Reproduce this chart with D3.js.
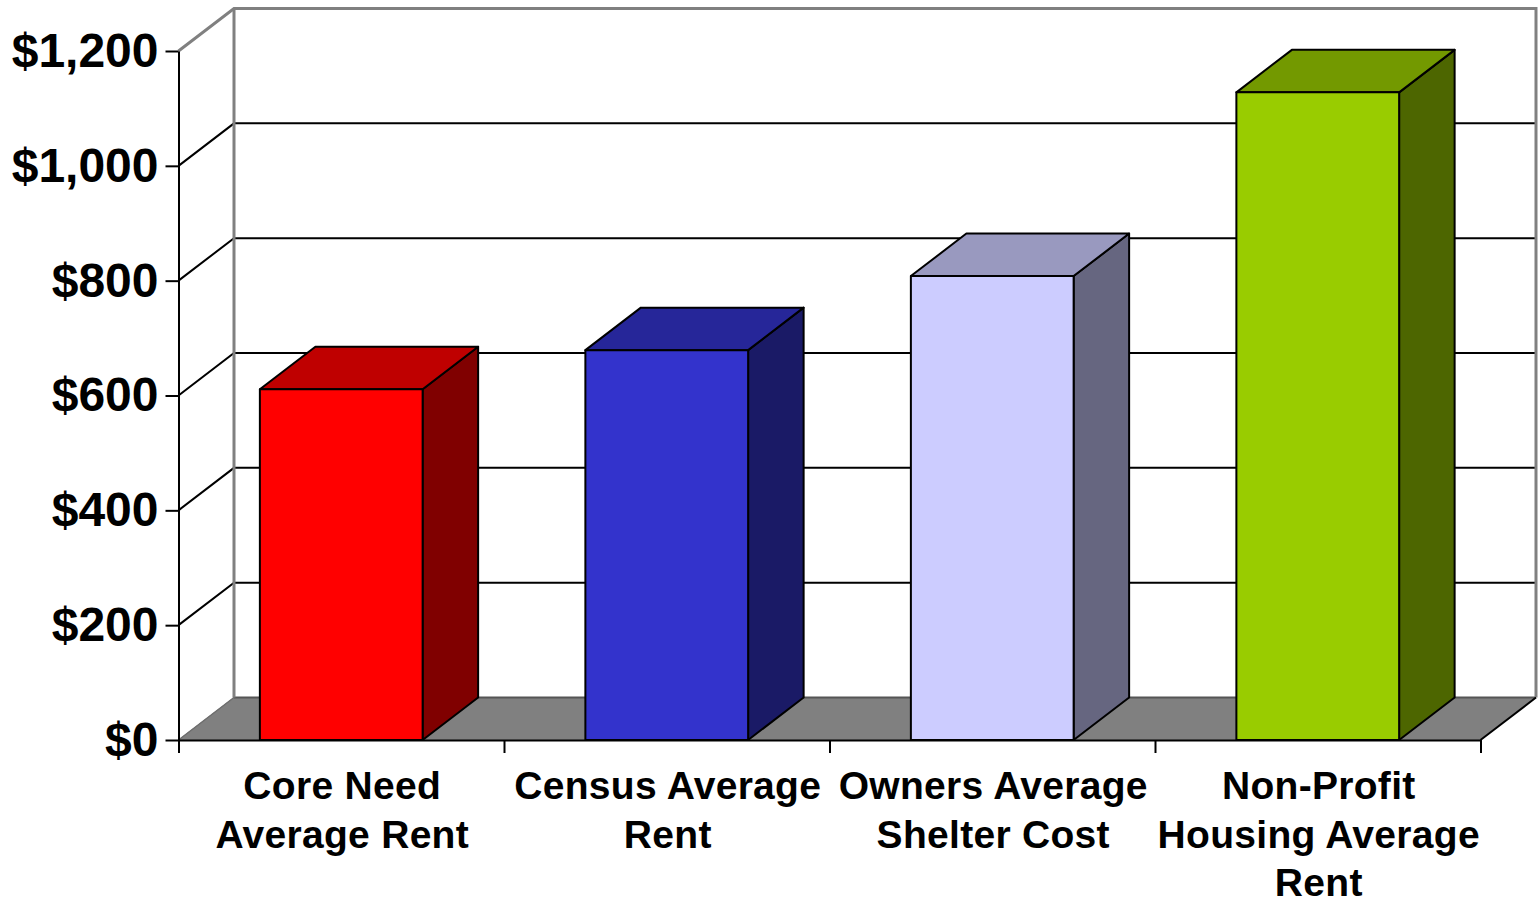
<!DOCTYPE html>
<html>
<head>
<meta charset="utf-8">
<script src="https://cdnjs.cloudflare.com/ajax/libs/d3/7.8.5/d3.min.js"></script>
<style>
	html, body { margin: 0; padding: 0; background: #fff; }
	svg { display: block; }
	text { font-family: "Liberation Sans", Arial, sans-serif; font-weight: bold; fill: #000; }
</style>
</head>
<body>
<div id="chart"></div>
<script>
// DATA
const categories = ["Core Need", "Census", "Owners", "Non-Profit"];
const categoryLabels = [
	["Core Need", "Average Rent"],
	["Census Average", "Rent"],
	["Owners Average", "Shelter Cost"],
	["Non-Profit", "Housing Average", "Rent"]
];
const values = [611, 679, 808, 1128];
const yTicks = [0, 200, 400, 600, 800, 1000, 1200];
const frontColors = ["#FF0000", "#3333CC", "#CCCCFF", "#99CC00"];
const topColors = ["#BF0000", "#262699", "#9999BF", "#739900"];
const sideColors = ["#800000", "#1A1A66", "#666680", "#4D6600"];

// GLOBAL VARIABLES
const svgWidth = 1539, svgHeight = 901;
const x0 = 178.5, x1 = 1480.5, y0 = 740, y1 = 51;
const depthX = 55.5, depthY = 42.5;

const svg = d3.select("#chart").append("svg")
	.attr("width", svgWidth)
	.attr("height", svgHeight);

// SCALES
const xScale = d3.scaleBand()
	.domain(categories)
	.range([x0, x1])
	.paddingInner(0.5)
	.paddingOuter(0.25);

const xEdges = d3.scaleLinear().domain([0, 4]).range([x0, x1]);

const yScale = d3.scaleLinear()
	.domain([0, 1200])
	.range([y0, y1]);

// FLOOR
svg.append("path")
	.attr("d", `M${x0},${y0}L${x0 + depthX},${y0 - depthY}L${x1 + depthX},${y0 - depthY}L${x1},${y0}Z`)
	.attr("fill", "#808080")
	.attr("stroke", "#808080")
	.attr("stroke-width", 1);

svg.append("line")
	.attr("x1", x0 + depthX).attr("x2", x1 + depthX)
	.attr("y1", y0 - depthY).attr("y2", y0 - depthY)
	.attr("stroke", "#555")
	.attr("stroke-width", 2);

// GRIDLINES (side wall and back wall)
const gridTicks = yTicks.filter(d => d > 0 && d < 1200);

svg.selectAll(".grid")
	.data(gridTicks)
	.enter()
	.append("path")
		.attr("class", "grid")
		.attr("fill", "none")
		.attr("stroke", "#000")
		.attr("stroke-width", 2)
		.attr("d", d => `M${x0},${yScale(d)}L${x0 + depthX},${yScale(d) - depthY}L${x1 + depthX},${yScale(d) - depthY}`);

// WALL OUTLINE
svg.append("path")
	.attr("d", `M${x0},${y1}L${x0 + depthX},${y1 - depthY}L${x1 + depthX},${y1 - depthY}L${x1 + depthX},${y0 - depthY}`)
	.attr("fill", "none")
	.attr("stroke", "#808080")
	.attr("stroke-width", 3);

svg.append("line")
	.attr("x1", x0 + depthX).attr("x2", x0 + depthX)
	.attr("y1", y1 - depthY).attr("y2", y0 - depthY)
	.attr("stroke", "#808080")
	.attr("stroke-width", 3);

svg.append("line")
	.attr("x1", x0).attr("x2", x0 + depthX)
	.attr("y1", y0).attr("y2", y0 - depthY)
	.attr("stroke", "#6e6e6e")
	.attr("stroke-width", 1.5);

svg.append("line")
	.attr("x1", x1).attr("x2", x1 + depthX)
	.attr("y1", y0).attr("y2", y0 - depthY)
	.attr("stroke", "#000")
	.attr("stroke-width", 2);

// BARS
const bars = svg.selectAll(".bar")
	.data(categories)
	.enter()
	.append("g")
		.attr("class", "bar")
		.attr("stroke", "#000")
		.attr("stroke-width", 2)
		.attr("stroke-linejoin", "round");

// side face
bars.append("path")
	.attr("fill", (d, i) => sideColors[i])
	.attr("d", (d, i) => {
		const r = xScale(d) + xScale.bandwidth();
		const t = yScale(values[i]);
		return `M${r},${y0}L${r},${t}L${r + depthX},${t - depthY}L${r + depthX},${y0 - depthY}Z`;
	});

// top face
bars.append("path")
	.attr("fill", (d, i) => topColors[i])
	.attr("d", (d, i) => {
		const l = xScale(d);
		const r = l + xScale.bandwidth();
		const t = yScale(values[i]);
		return `M${l},${t}L${l + depthX},${t - depthY}L${r + depthX},${t - depthY}L${r},${t}Z`;
	});

// front face
bars.append("rect")
	.attr("fill", (d, i) => frontColors[i])
	.attr("x", d => xScale(d))
	.attr("width", xScale.bandwidth())
	.attr("y", (d, i) => yScale(values[i]))
	.attr("height", (d, i) => y0 - yScale(values[i]));

// AXES
const yAxis = svg.append("g")
	.attr("transform", `translate(${x0},0)`)
	.call(d3.axisLeft(yScale)
		.tickValues(yTicks)
		.tickSize(13)
		.tickSizeOuter(0)
		.tickPadding(7)
		.tickFormat(d => "$" + d3.format(",")(d)));

yAxis.selectAll("text")
	.style("font-family", '"Liberation Sans", Arial, sans-serif')
	.style("font-size", "48px")
	.style("font-weight", "bold");

const xAxis = svg.append("g")
	.attr("transform", `translate(0,${y0})`)
	.call(d3.axisBottom(xEdges)
		.tickValues([0, 1, 2, 3, 4])
		.tickSize(13)
		.tickSizeOuter(0)
		.tickFormat(""));

svg.selectAll(".domain, .tick line")
	.attr("stroke", "#000")
	.attr("stroke-width", 2);

// CATEGORY LABELS
const labels = svg.selectAll(".cat-label")
	.data(categories)
	.enter()
	.append("text")
		.attr("class", "cat-label")
		.attr("text-anchor", "middle")
		.style("font-size", "39px")
		.style("letter-spacing", "0.3px");

labels.selectAll("tspan")
	.data((d, i) => categoryLabels[i].map(line => ({ line, c: d })))
	.enter()
	.append("tspan")
		.attr("x", d => xScale(d.c) + xScale.bandwidth() / 2 + 1)
		.attr("y", (d, i) => 799 + i * 48.5)
		.text(d => d.line);
</script>
</body>
</html>
